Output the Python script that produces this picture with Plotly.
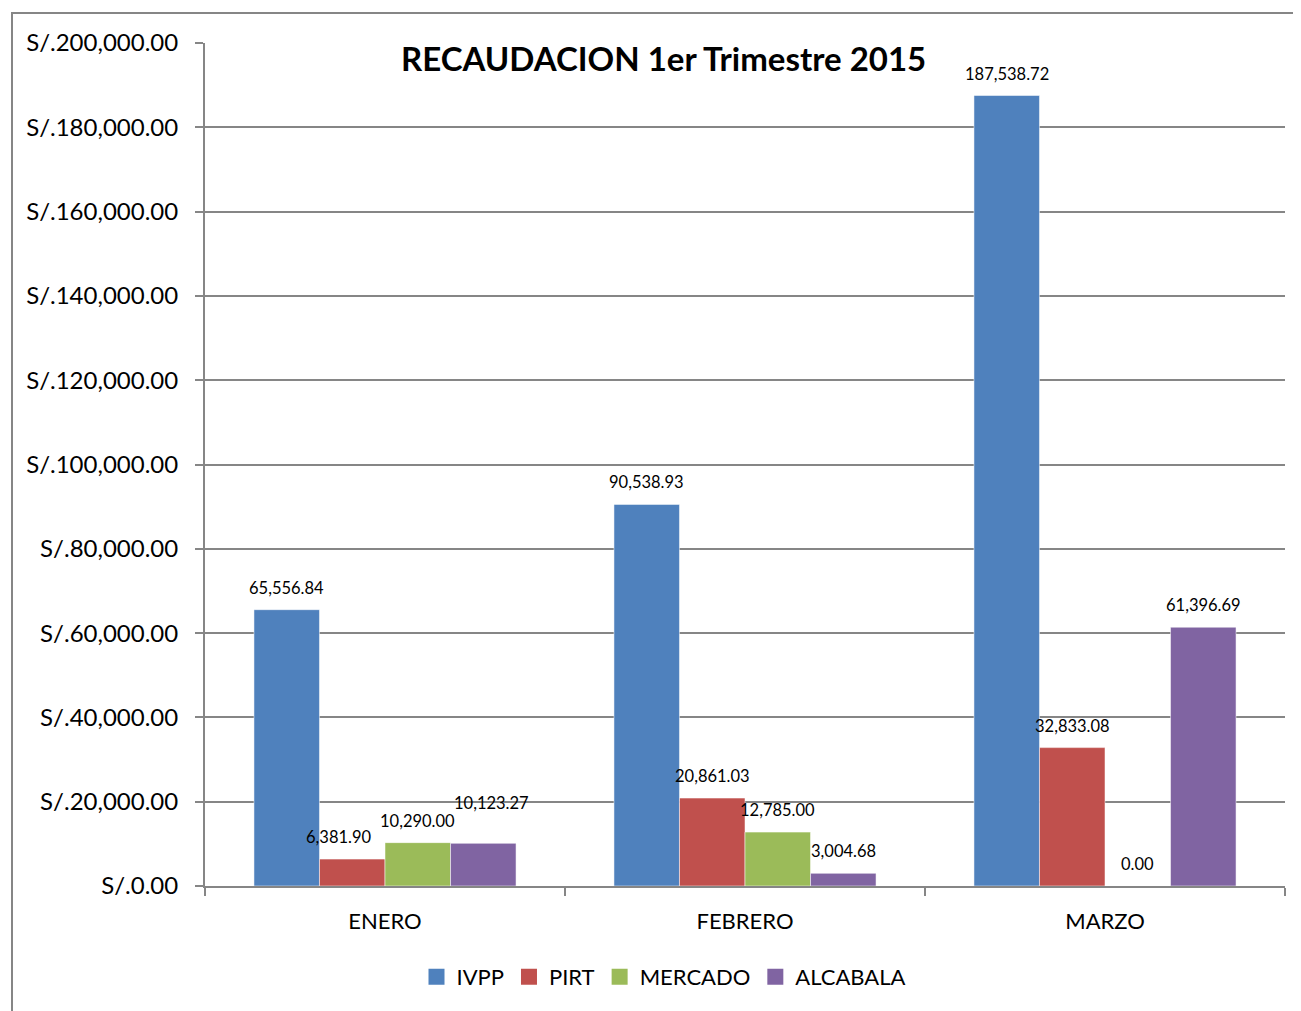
import plotly.graph_objects as go

months = ["ENERO", "FEBRERO", "MARZO"]
series_names = ["IVPP", "PIRT", "MERCADO", "ALCABALA"]
ivpp = [65556.84, 90538.93, 187538.72]
pirt = [6381.90, 20861.03, 32833.08]
mercado = [10290.00, 12785.00, 0.00]
alcabala = [10123.27, 3004.68, 61396.69]
y_ticks = list(range(0, 200001, 20000))
y_tick_labels = ["S/.{:,.2f}".format(v) for v in y_ticks]

colors = ["#4F81BD", "#C0504D", "#9BBB59", "#8064A2"]
all_series = [ivpp, pirt, mercado, alcabala]

FONT = "Lato, Calibri, Carlito, sans-serif"

fig = go.Figure()
for name, vals, col in zip(series_names, all_series, colors):
    fig.add_trace(go.Bar(
        name=name, x=months, y=vals, showlegend=False,
        marker=dict(color=col, line=dict(color="rgba(255,255,255,0.5)", width=1)),
    ))
# legend entries with larger square swatches
for name, col in zip(series_names, colors):
    fig.add_trace(go.Scatter(
        name=name, x=[None], y=[None], mode="markers",
        marker=dict(symbol="square", size=16, color=col), showlegend=True,
    ))

# data labels (annotations above each bar)
bar_w_px = 65.5
label_shift = {(0, 1): (-14, 0), (0, 3): (8, 18)}
annotations = []
for si, vals in enumerate(all_series):
    for mi, v in enumerate(vals):
        dx, dy = label_shift.get((mi, si), (0, 0))
        annotations.append(dict(
            x=months[mi], y=v, xref="x", yref="y",
            text="{:,.2f}".format(v), showarrow=False,
            xshift=(si - 1.5) * bar_w_px + dx, yshift=22 + dy,
            font=dict(family=FONT, size=16.5, color="#000000"),
        ))

annotations.append(dict(
    text="<b>RECAUDACION 1er Trimestre 2015</b>", xref="paper", yref="paper",
    x=(663 - 205) / 1080, y=(886 - 58) / 843, showarrow=False,
    xanchor="center", yanchor="middle",
    font=dict(family=FONT, size=33, color="#000000"),
))

# page body has an 8px margin; size the figure so the plot lands where the reference has it
fig.update_layout(
    width=1293, height=1003,
    margin=dict(l=197, r=16, t=35, b=125, autoexpand=False),
    paper_bgcolor="white", plot_bgcolor="white",
    barmode="group", bargap=0.272, bargroupgap=0,
    font=dict(family=FONT, size=20, color="#000000"),
    showlegend=True,
    legend=dict(orientation="h", x=(664 - 205) / 1080, xanchor="center", y=-(977 - 886) / 843,
                yanchor="middle", font=dict(family=FONT, size=22), traceorder="normal",
                itemwidth=30),
    annotations=annotations,
    shapes=[dict(type="rect", xref="paper", yref="paper",
                 x0=(12 - 205) / 1080, x1=1.05, y0=-0.2, y1=(886 - 13) / 843,
                 line=dict(color="#868686", width=2), fillcolor="rgba(0,0,0,0)", layer="below")],
)
fig.update_yaxes(
    range=[0, 200000], tickvals=y_ticks, ticktext=y_tick_labels,
    showgrid=True, gridcolor="#868686", gridwidth=2,
    showline=True, linecolor="#868686", linewidth=2,
    ticks="outside", ticklen=8, tickcolor="#868686", tickwidth=2,
    tickfont=dict(family=FONT, size=24), zeroline=False, automargin=False,
    ticklabelstandoff=12,
)
fig.update_xaxes(
    showline=True, linecolor="#868686", linewidth=2,
    ticks="outside", ticklen=8, tickcolor="#868686", tickwidth=2,
    tickson="boundaries", tickfont=dict(family=FONT, size=22), automargin=False,
    ticklabelstandoff=15,
)

fig.write_html("out.html")
